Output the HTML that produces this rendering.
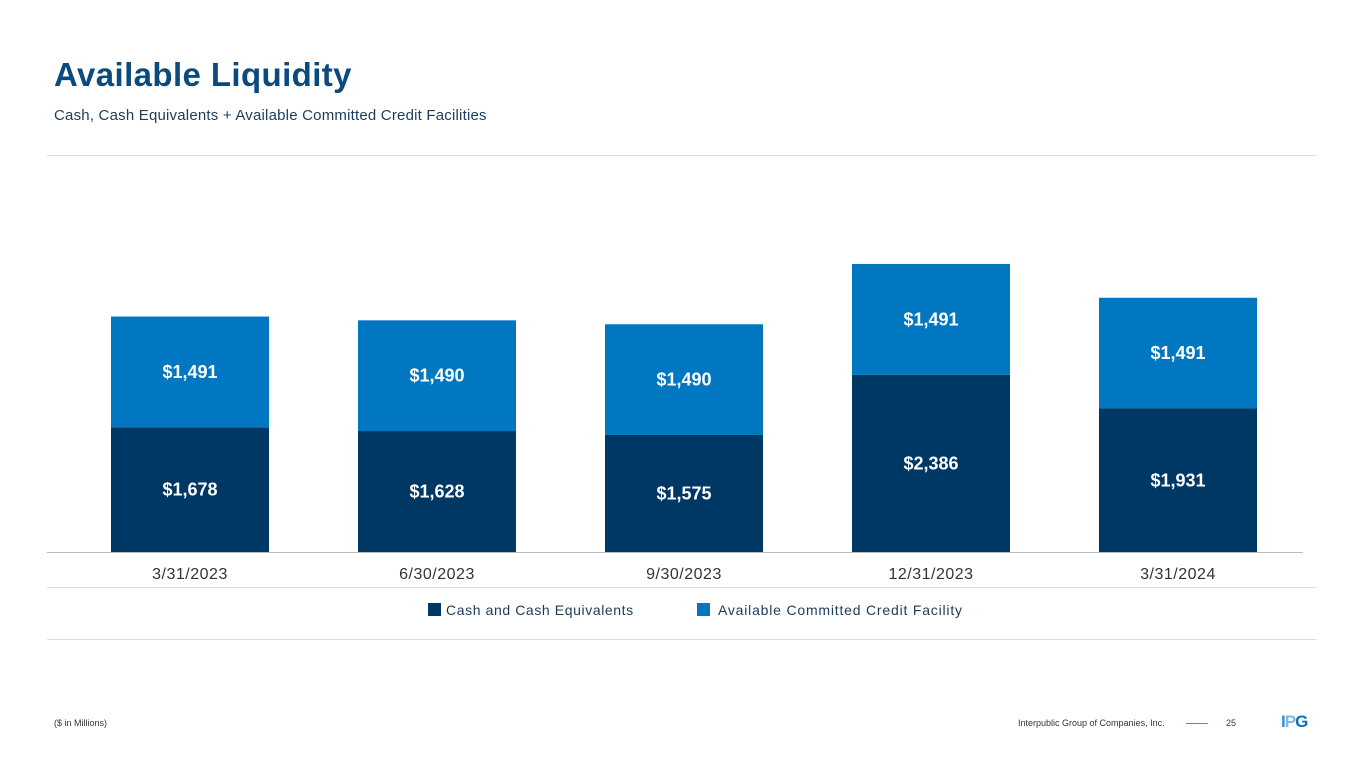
<!DOCTYPE html>
<html><head><meta charset="utf-8"><style>
body{margin:0;width:1365px;height:768px;background:#fff;font-family:"Liberation Sans",sans-serif;position:relative;overflow:hidden}
.t{position:absolute;white-space:nowrap}
</style></head><body>
<div class="t" style="left:54px;top:56px;font-size:33px;letter-spacing:0.4px;font-weight:bold;color:#0b4a7d">Available Liquidity</div>
<div class="t" style="left:54px;top:107px;font-size:15px;letter-spacing:0.2px;color:#1d3c5a">Cash, Cash Equivalents + Available Committed Credit Facilities</div>
<div style="position:absolute;left:47px;top:155px;width:1270px;height:1px;background:#ddd"></div>
<div style="position:absolute;left:47px;top:587px;width:1270px;height:1px;background:#ddd"></div>
<div style="position:absolute;left:47px;top:639px;width:1270px;height:1px;background:#ddd"></div>
<svg id="chart" width="1365" height="768" style="position:absolute;left:0;top:0"></svg>
<div class="t" style="left:428px;top:602px;font-size:14px;letter-spacing:0.6px;color:#1d3c5a"><span style="display:inline-block;width:13px;height:13px;background:#003865;vertical-align:-1px;margin-right:5px"></span>Cash and Cash Equivalents</div>
<div class="t" style="left:697px;top:602px;font-size:14px;letter-spacing:0.8px;color:#1d3c5a"><span style="display:inline-block;width:13px;height:13px;background:#0077c0;vertical-align:-1px;margin-right:8px"></span>Available Committed Credit Facility</div>
<div class="t" style="left:54px;top:718px;font-size:9px;color:#333">($ in Millions)</div>
<div class="t" style="left:1018px;top:718px;font-size:9px;color:#333">Interpublic Group of Companies, Inc.</div>
<div style="position:absolute;left:1186px;top:723px;width:22px;height:1px;background:#4a8fc4"></div>
<div class="t" style="left:1226px;top:718px;font-size:9px;color:#333">25</div>
<div class="t" style="left:1281px;top:712px;font-size:17px;font-weight:bold;color:#3b8fd0;letter-spacing:-1px">I<span style="color:#7fb8e3">P</span><span style="color:#0b6fb5">G</span></div>
<script>
const categories=["3/31/2023","6/30/2023","9/30/2023","12/31/2023","3/31/2024"];
const cashValues=[1678,1628,1575,2386,1931];
const creditValues=[1491,1490,1490,1491,1491];
const svg=document.getElementById('chart');
const NS="http://www.w3.org/2000/svg";
const base=552,scale=0.0743,x0=111,step=247,bw=158;
const y=v=>base-v*scale;
const fmt=v=>"$"+v.toLocaleString("en-US");
function mk(tag,attrs,txt){const e=document.createElementNS(NS,tag);for(const k in attrs)e.setAttribute(k,attrs[k]);if(txt!==undefined)e.textContent=txt;svg.appendChild(e);return e;}
categories.forEach((c,i)=>{
 const x=x0+i*step,cx=x+bw/2;
 const c1=cashValues[i],c2=creditValues[i];
 let r=mk('rect',{x:x,y:y(c1),width:bw,height:base-y(c1),fill:'#003865'});
 
 
 r=mk('rect',{x:x,y:y(c1+c2),width:bw,height:y(c1)-y(c1+c2),fill:'#0077c0'});
 
 
 let t=mk('text',{x:cx,y:(y(c1)+base)/2+6,'text-anchor':'middle','font-size':18,'font-weight':'bold',fill:'#fff','font-family':'Liberation Sans'},fmt(c1));
 
 
 t=mk('text',{x:cx,y:(y(c1)+y(c1+c2))/2+6,'text-anchor':'middle','font-size':18,'font-weight':'bold',fill:'#fff','font-family':'Liberation Sans'},fmt(c2));
 
 
 t=mk('text',{x:cx,y:579,'text-anchor':'middle','font-size':16,'letter-spacing':0.5,fill:'#333','font-family':'Liberation Sans'},c);
 
 
});
const ax=mk('line',{x1:47,x2:1303,y1:552.5,y2:552.5,stroke:'#bbb','stroke-width':1});


</script>
</body></html>
